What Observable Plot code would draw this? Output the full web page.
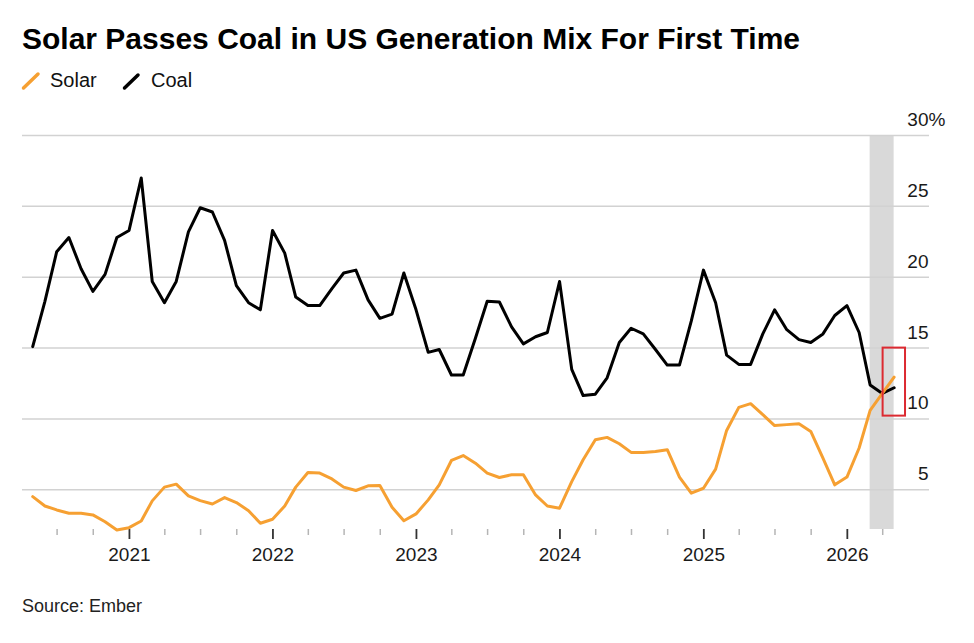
<!DOCTYPE html>
<html>
<head>
<meta charset="utf-8">
<script src="https://cdn.jsdelivr.net/npm/d3@7"></script>
<script src="https://cdn.jsdelivr.net/npm/@observablehq/plot@0.6"></script>
<style>
  html, body { margin: 0; padding: 0; background: #fff; }
  body { font-family: "Liberation Sans", Arial, Helvetica, sans-serif; color: #000; }
  #wrap { position: relative; width: 974px; height: 643px; overflow: hidden; }
  #title { position: absolute; left: 22px; top: 24px; font-size: 30px; line-height: 30px; font-weight: bold; white-space: nowrap; }
  #legend { position: absolute; left: 0; top: 0; width: 974px; height: 100px; }
  .lg { position: absolute; top: 70px; font-size: 20px; line-height: 20px; color: #111; }
  #chart { position: absolute; left: 0; top: 100px; }
  #source { position: absolute; left: 22px; top: 597px; font-size: 18px; line-height: 18px; color: #222; }
</style>
</head>
<body>
<div id="wrap">
  <div id="title">Solar Passes Coal in US Generation Mix For First Time</div>
  <div id="legend">
    <svg width="974" height="100" style="position:absolute;left:0;top:0">
      <line x1="23.5" y1="88" x2="38" y2="74" stroke="#f6a032" stroke-width="3.5" stroke-linecap="round"/>
      <line x1="124.5" y1="88" x2="138" y2="75" stroke="#000" stroke-width="3.5" stroke-linecap="round"/>
    </svg>
    <div class="lg" style="left:50px">Solar</div>
    <div class="lg" style="left:151px">Coal</div>
  </div>
  <div id="chart"></div>
  <div id="source">Source: Ember</div>
</div>
<script>
// Monthly share of US electricity generation (%), Apr 2020 .. Apr 2026 (plotted at month end)
const firstMonth = [2020, 4];   // May 1 2020 -> minus one day = Apr 30 2020
const monthCount = 73;

const solar = [
  4.52, 3.86, 3.58, 3.35, 3.35, 3.23, 2.75, 2.17, 2.33, 2.80, 4.22, 5.19,
  5.40, 4.57, 4.24, 4.00, 4.45, 4.10, 3.53, 2.64, 2.92, 3.86, 5.19, 6.22,
  6.18, 5.77, 5.19, 4.95, 5.28, 5.30, 3.77, 2.82, 3.30, 4.29, 5.35, 7.07,
  7.42, 6.88, 6.18, 5.87, 6.06, 6.06, 4.64, 3.86, 3.70, 5.58, 7.12, 8.53,
  8.70, 8.25, 7.64, 7.64, 7.70, 7.83, 5.90, 4.76, 5.11, 6.46, 9.19, 10.82,
  11.08, 10.30, 9.53, 9.60, 9.67, 9.12, 7.24, 5.35, 5.90, 7.95, 10.61, 11.80,
  12.95
];

const coal = [
  15.1, 18.3, 21.8, 22.8, 20.6, 19.0, 20.2, 22.8, 23.3, 27.0, 19.7, 18.2,
  19.7, 23.2, 24.9, 24.6, 22.6, 19.4, 18.2, 17.7, 23.3, 21.7, 18.6, 18.0,
  18.0, 19.2, 20.3, 20.5, 18.4, 17.1, 17.4, 20.3, 17.7, 14.7, 14.9, 13.1,
  13.1, 15.7, 18.3, 18.25, 16.5, 15.3, 15.8, 16.1, 19.7, 13.5, 11.65, 11.75,
  12.9, 15.4, 16.4, 16.0, 14.9, 13.8, 13.8, 16.9, 20.5, 18.2, 14.5, 13.85,
  13.85, 16.0, 17.7, 16.3, 15.6, 15.4, 16.0, 17.3, 18.0, 16.1, 12.4, 11.8,
  12.2
];

const yTicks = [5, 10, 15, 20, 25, 30];
const yDomain = [2.2, 30];
const xDomain = [new Date(Date.UTC(2020, 3, 4)), new Date(Date.UTC(2026, 6, 29))];
const yearTicks = d3.utcYear.range(new Date(Date.UTC(2021, 0, 1)), new Date(Date.UTC(2026, 0, 2)));
const quarterTicks = d3.utcMonth.every(3)
  .range(new Date(Date.UTC(2020, 6, 1)), new Date(Date.UTC(2026, 4, 1)))
  .filter(d => d.getUTCMonth() !== 0);

// highlight band (last two months) and red call-out box
const bandStart = 70, bandEnd = 72;
const boxX = [new Date(Date.UTC(2026, 3, 2)), new Date(Date.UTC(2026, 4, 29))];
const boxY = [10.2, 15];

const dates = d3.range(monthCount).map(i =>
  d3.utcDay.offset(d3.utcMonth.offset(new Date(Date.UTC(firstMonth[0], firstMonth[1], 1)), i), -1));
const rows = dates.map((d, i) => ({date: d, solar: solar[i], coal: coal[i]}));

const chart = Plot.plot({
  width: 974,
  height: 480,
  marginLeft: 22,
  marginRight: 45,
  marginTop: 35,
  marginBottom: 51,
  style: {fontFamily: '"Liberation Sans", Arial, Helvetica, sans-serif', fontSize: "19px", color: "#1a1a1a", overflow: "visible"},
  x: {type: "utc", domain: xDomain, axis: null},
  y: {domain: yDomain, axis: null},
  marks: [
    Plot.rect([0], {
      x1: () => dates[bandStart], x2: () => dates[bandEnd],
      y1: () => yDomain[0], y2: () => yDomain[1],
      fill: "#d9d9d9"
    }),
    Plot.ruleY(yTicks, {stroke: "#d2d2d2", strokeWidth: 1.5}),
    Plot.axisX({ticks: quarterTicks, tickSize: 6, stroke: "#b5b5b5", strokeWidth: 1.5, text: null, label: null}),
    Plot.axisX({ticks: yearTicks, tickSize: 10, tickPadding: 8, tickFormat: "%Y", stroke: "#333", strokeWidth: 1.8, fill: "#1a1a1a", fontSize: 19, label: null}),
    Plot.text(yTicks, {y: d => d, text: d => String(d), frameAnchor: "right", textAnchor: "end", lineAnchor: "bottom", dx: -1, dy: -9.5, fontSize: 19, fill: "#1a1a1a"}),
    Plot.text([30], {y: d => d, text: () => "%", frameAnchor: "right", textAnchor: "start", lineAnchor: "bottom", dx: -1, dy: -9.5, fontSize: 19, fill: "#1a1a1a"}),
    Plot.line(rows, {x: "date", y: "coal", stroke: "#000", strokeWidth: 3, strokeLinejoin: "round"}),
    Plot.line(rows, {x: "date", y: "solar", stroke: "#f6a032", strokeWidth: 3, strokeLinejoin: "round"}),
    Plot.rect([0], {
      x1: () => boxX[0], x2: () => boxX[1],
      y1: () => boxY[0], y2: () => boxY[1],
      fill: "none", stroke: "#dc2a31", strokeWidth: 2
    })
  ]
});
document.getElementById("chart").appendChild(chart);
</script>
</body>
</html>
